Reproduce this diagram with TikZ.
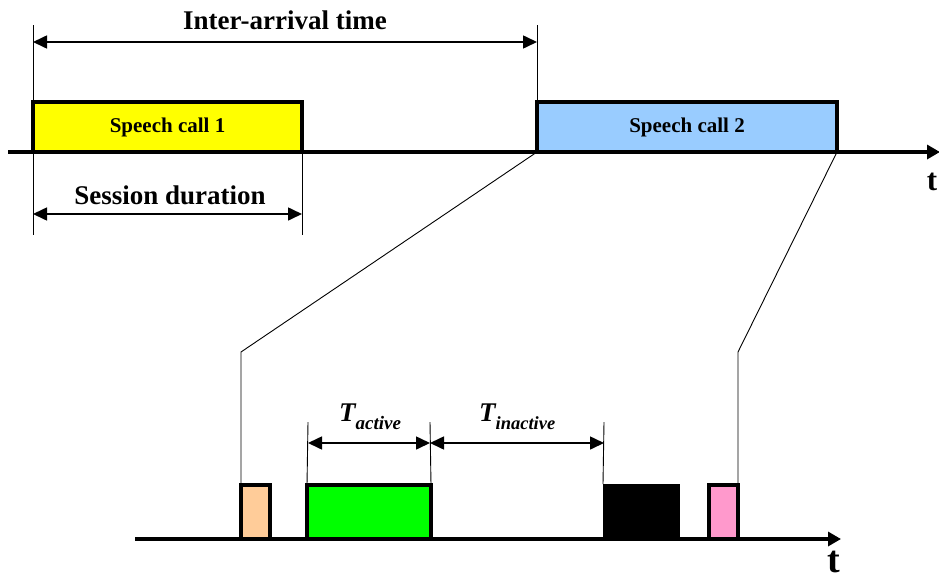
\documentclass[tikz,border=0pt]{standalone}
\usepackage{fontspec}
\setmainfont{Liberation Serif}
\usetikzlibrary{arrows.meta}
\definecolor{callyellow}{HTML}{FFFF00}
\definecolor{callblue}{HTML}{99CCFF}
\definecolor{burstpeach}{HTML}{FFCC99}
\definecolor{burstgreen}{HTML}{00FF00}
\definecolor{burstpink}{HTML}{FF99CC}
\begin{document}
\begin{tikzpicture}[x=1pt,y=-1pt,
  axis/.style={line width=4pt,-{Triangle[length=13pt,width=14pt]}},
  block/.style={draw,line width=4pt,anchor=north west,inner sep=0pt,outer sep=0pt},
  extline/.style={line width=0.9pt},
  dimarrow/.style={line width=1.6pt,{Triangle[length=14pt,width=13pt]}-{Triangle[length=14pt,width=13pt]}},
  zoomline/.style={line width=0.9pt},
  biglabel/.style={font=\bfseries\fontsize{27}{30}\selectfont,inner sep=0pt},
  calllabel/.style={font=\bfseries\fontsize{21}{24}\selectfont,inner sep=0pt},
  tlabel/.style={font=\bfseries\itshape\fontsize{27}{30}\selectfont,inner sep=0pt},
]
\useasboundingbox (0,0) rectangle (939,581);

% ---------- session level ----------
\coordinate (ax1s) at (8,152);
\coordinate (ax1e) at (940,152);
\node[block,fill=callyellow,minimum width=269pt,minimum height=50pt] (call1) at (33,102) {};
\node[block,fill=callblue,minimum width=300pt,minimum height=50pt] (call2) at (537,102) {};
\draw[axis] (ax1s) -- (ax1e);
\node[calllabel] at (call1.center) {Speech call 1};
\node[calllabel] at (call2.center) {Speech call 2};
\node[font=\bfseries\fontsize{31}{34}\selectfont,inner sep=0pt] (t1) at (932,182) {t};

% inter-arrival time
\coordinate (ia1) at (33,25);
\coordinate (ia2) at (537,25);
\coordinate (ib1) at (33,235);
\draw[extline] (ia1) -- (ib1);
\draw[extline] (ia2) -- (call2.north west);
\coordinate (iaL) at (33,42);
\coordinate (iaR) at (537,42);
\draw[dimarrow] (iaL) -- (iaR);
\node[biglabel] (ialabel) at (285,20) {Inter-arrival time};

% session duration
\coordinate (sd2) at (302,235);
\draw[extline] (call1.south east) -- (sd2);
\coordinate (sdL) at (33,214);
\coordinate (sdR) at (302,214);
\draw[dimarrow] (sdL) -- (sdR);
\node[biglabel] (sdlabel) at (170,195) {Session duration};

% ---------- packet level ----------
\coordinate (ax2s) at (135,539);
\coordinate (ax2e) at (841,539);
\node[block,fill=burstpeach,minimum width=29pt,minimum height=54pt] (b1) at (241,485) {};
\node[block,fill=burstgreen,minimum width=124pt,minimum height=54pt] (b2) at (307,485) {};
\node[block,fill=black,minimum width=77pt,minimum height=55pt,line width=0pt,draw=none] (b3) at (603,484) {};
\node[block,fill=burstpink,minimum width=29pt,minimum height=54pt] (b4) at (709,485) {};
\draw[axis] (ax2s) -- (ax2e);
\node[font=\bfseries\fontsize{38}{40}\selectfont,inner sep=0pt] (t2) at (834,562) {t};

% zoom from call 2 down to the packet level
\coordinate (zl) at (241,352);
\coordinate (zr) at (738,352);
\draw[zoomline] (call2.south west) -- (zl) -- (b1.north west);
\draw[zoomline] (call2.south east) -- (zr) -- (b4.north east);

% active / inactive periods
\coordinate (e1) at (308,422);
\coordinate (e2) at (430,422);
\coordinate (e3) at (604,422);
\draw[extline] (e1) -- (b2.north west);
\draw[extline] (e2) -- (b2.north east);
\draw[extline] (e3) -- (b3.north west);
\coordinate (aL) at (308,443);
\coordinate (aR) at (430,443);
\coordinate (iR) at (604,443);
\draw[dimarrow] (aL) -- (aR);
\draw[dimarrow] (aR) -- (iR);
\node[tlabel,anchor=base west] (tact) at (339,421) {T\raisebox{-8pt}{\fontsize{19}{21}\selectfont active}};
\node[tlabel,anchor=base west] (tinact) at (479,421) {T\raisebox{-8pt}{\fontsize{18.5}{21}\selectfont inactive}};
\end{tikzpicture}
\end{document}
